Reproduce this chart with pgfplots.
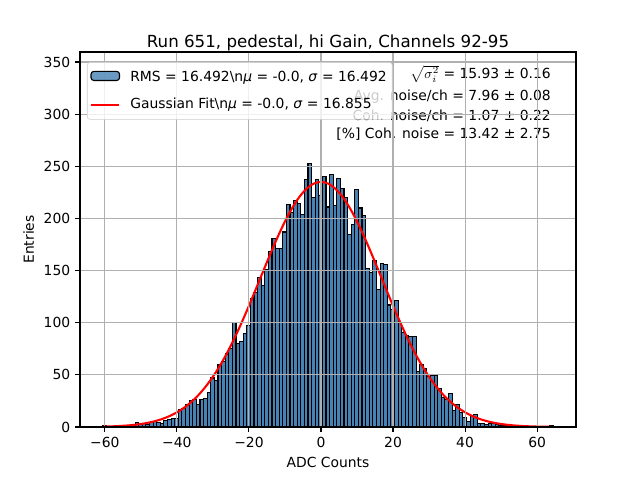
\documentclass[border=0pt]{standalone}
\usepackage{fontspec}
\setmainfont{DejaVu Sans}
\usepackage{pgfplots}
\pgfplotsset{compat=1.18}
\definecolor{barblue}{RGB}{70,130,180}
\definecolor{gridgray}{HTML}{B0B0B0}
\definecolor{legframe}{HTML}{CCCCCC}
\begin{document}
\begin{tikzpicture}
\useasboundingbox (0,0) rectangle (460.8pt,345.6pt);
\begin{axis}[name=ax, at={(57.6pt,38.16pt)}, anchor=south west, scale only axis,
  width=357.12pt, height=270pt, axis on top,
  xmin=-66.9, xmax=70.8, ymin=0, ymax=359.6,
  xtick={-60,-40,...,60}, xticklabels={−60,−40,−20,0,20,40,60},
  ytick={0,50,...,350},
  /pgf/number format/assume math mode=true,
  grid=major, grid style={gridgray, line width=0.8pt},
  axis line style={line width=0.8pt}, tick style={black, line width=0.8pt},
  tick align=outside, tick pos=left, major tick length=3.5pt,
  ticklabel style={font=\fontsize{10}{12}\selectfont},
  xlabel={ADC Counts}, ylabel={Entries},
  label style={font=\fontsize{10}{12}\selectfont},
  legend cell align=left,
  legend style={at={(0.014,0.973)}, anchor=north west, draw=legframe, fill=white,
    fill opacity=0.8, text opacity=1, rounded corners=2pt,
    font=\fontsize{10}{12}\selectfont, row sep=7pt, inner xsep=2pt, inner ysep=4pt,
    /tikz/every odd column/.append style={column sep=5pt}},
]
\node[anchor=east, inner sep=0pt] at (rel axis cs:0.9496,0.941) {$\sqrt{\sigma_i^2}$ = 15.93 ± 0.16};
\node[anchor=east, inner sep=0pt] at (rel axis cs:0.9496,0.880) {Avg. noise/ch = 7.96 ± 0.08};
\node[anchor=east, inner sep=0pt] at (rel axis cs:0.9496,0.829) {Coh. noise/ch = 1.07 ± 0.22};
\node[anchor=east, inner sep=0pt] at (rel axis cs:0.9496,0.781) {[\%] Coh. noise = 13.42 ± 2.75};
\addplot[ybar interval, fill=barblue, draw=black, line width=0.8pt,
  legend image code/.code={\draw[fill=barblue, draw=black, line width=0.8pt] (0cm,-0.09cm) rectangle (0.72cm,0.14cm);}]
coordinates {
(-60.6,1) (-59.6,0) (-58.6,0) (-57.6,0) (-56.6,1) (-55.6,0) (-54.6,1) (-53.6,1) (-52.6,2) (-51.6,4)
(-50.6,3) (-49.6,3) (-48.6,2) (-47.6,4) (-46.6,5) (-45.6,4) (-44.6,3) (-43.6,6) (-42.6,7) (-41.6,8)
(-40.6,8) (-39.6,17) (-38.6,18) (-37.6,22) (-36.6,25) (-35.6,26) (-34.6,22) (-33.6,26) (-32.6,27) (-31.6,33)
(-30.6,47) (-29.6,45) (-28.6,60) (-27.6,63) (-26.6,70) (-25.6,75) (-24.6,100) (-23.6,80) (-22.6,82) (-21.6,90)
(-20.6,97) (-19.6,123) (-18.6,129) (-17.6,143) (-16.6,136) (-15.6,151) (-14.6,168) (-13.6,181) (-12.6,171) (-11.6,171)
(-10.6,187) (-9.6,213) (-8.6,206) (-7.6,217) (-6.6,214) (-5.6,204) (-4.6,237) (-3.6,253) (-2.6,220) (-1.6,237)
(-0.6,222) (0.4,240) (1.4,211) (2.4,242) (3.4,212) (4.4,238) (5.4,229) (6.4,220) (7.4,185) (8.4,194)
(9.4,228) (10.4,210) (11.4,203) (12.4,152) (13.4,148) (14.4,160) (15.4,132) (16.4,157) (17.4,156) (18.4,117)
(19.4,113) (20.4,121) (21.4,100) (22.4,91) (23.4,88) (24.4,87) (25.4,87) (26.4,53) (27.4,60) (28.4,56)
(29.4,48) (30.4,49) (31.4,49) (32.4,37) (33.4,28) (34.4,26) (35.4,32) (36.4,16) (37.4,22) (38.4,14)
(39.4,9) (40.4,5) (41.4,11) (42.4,12) (43.4,3) (44.4,3) (45.4,2) (46.4,3) (47.4,3) (48.4,2)
(49.4,1) (50.4,1) (51.4,1) (52.4,0) (53.4,1) (54.4,0) (55.4,0) (56.4,0) (57.4,0) (58.4,0)
(59.4,0) (60.4,0) (61.4,0) (62.4,0) (63.4,1) (64.4,0)
};
\addlegendentry{RMS = 16.492\textbackslash n\textit{μ} = -0.0, \textit{σ} = 16.492}
\addplot[red, line width=1.5pt, smooth, no markers,
  legend image code/.code={\draw[red, line width=1.5pt] (0cm,0cm) -- (0.72cm,0cm);}]
coordinates {
(-60.5,0.38) (-58,0.63) (-56,0.94) (-54,1.39) (-52,2.01) (-50,2.89) (-48,4.07) (-46,5.67) (-44,7.79) (-42,10.54)
(-40,14.06) (-38,18.5) (-36,24.0) (-34,30.7) (-32,38.8) (-30,48.2) (-28,59.1) (-26,71.5) (-24,85.3) (-22,100.3)
(-20,116.2) (-18,132.9) (-16,149.8) (-14,166.4) (-12,182.4) (-10,197.1) (-8,210.0) (-6,220.6) (-4,228.5) (-2,233.4)
(0,235) (2,233.4) (4,228.5) (6,220.6) (8,210.0) (10,197.1) (12,182.4) (14,166.4) (16,149.8) (18,132.9)
(20,116.2) (22,100.3) (24,85.3) (26,71.5) (28,59.1) (30,48.2) (32,38.8) (34,30.7) (36,24.0) (38,18.5)
(40,14.06) (42,10.54) (44,7.79) (46,5.67) (48,4.07) (50,2.89) (52,2.01) (54,1.39) (56,0.94) (58,0.63)
(60,0.42) (62,0.27) (64,0.17)
};
\addlegendentry{Gaussian Fit\textbackslash n\textit{μ} = -0.0, \textit{σ} = 16.855}
\end{axis}
\node[anchor=base, font=\fontsize{12}{14}\selectfont] at ([yshift=3.1pt]ax.north) {Run 651, pedestal, hi Gain, Channels 92-95};
\end{tikzpicture}
\end{document}
